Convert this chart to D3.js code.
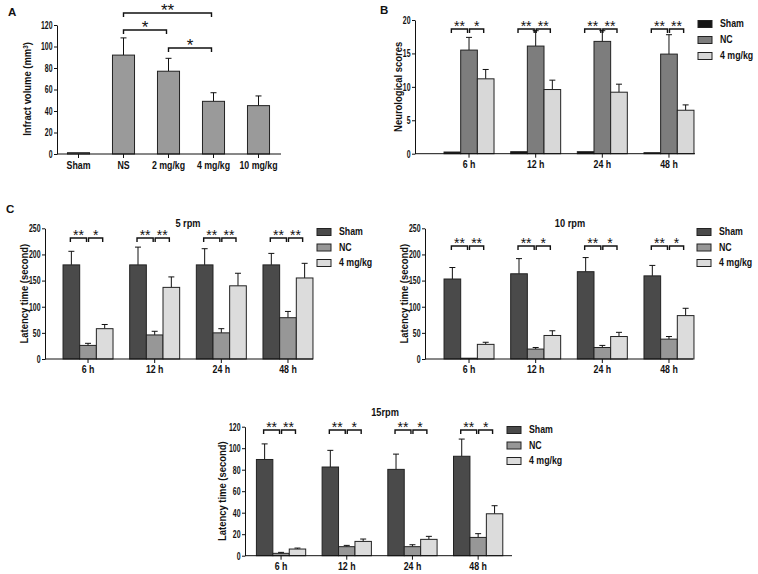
<!DOCTYPE html>
<html><head><meta charset="utf-8">
<script src="https://cdn.jsdelivr.net/npm/d3@7"></script>
<style>
body{margin:0;background:#fff}
svg{display:block}
text{font-family:"Liberation Sans",Arial,sans-serif;fill:#111}
</style>
</head><body>
<svg id="chart" width="758" height="574"></svg>
<script>
// ---------------- DATA ----------------
const aCategories = ["Sham", "NS", "2 mg/kg", "4 mg/kg", "10 mg/kg"];
const aValues = [1.2, 92, 77, 49, 45];
const aErrUpper = [1.2, 108, 89, 57, 54];
const aYTicks = [0, 20, 40, 60, 80, 100, 120];
const aSig = [ {from: "NS", to: "4 mg/kg", label: "**", level: 0},
               {from: "NS", to: "2 mg/kg", label: "*", level: 1},
               {from: "2 mg/kg", to: "4 mg/kg", label: "*", level: 2} ];

const groups = ["6 h", "12 h", "24 h", "48 h"];
const seriesNames = ["Sham", "NC", "4 mg/kg"];

// Panel B – neurological scores
const bSham = [0.25, 0.3, 0.3, 0.15];
const bShamErr = [0.25, 0.3, 0.3, 0.15];
const bNC = [15.5, 16.1, 16.8, 14.9];
const bNCErr = [17.4, 18.4, 18.4, 17.8];
const b4mg = [11.2, 9.6, 9.2, 6.5];
const b4mgErr = [12.6, 11.0, 10.4, 7.3];
const bYTicks = [0, 5, 10, 15, 20];
const bSig = [["**", "*"], ["**", "**"], ["**", "**"], ["**", "**"]];

// Panel C – 5 rpm
const c5Sham = [180, 180, 180, 180];
const c5ShamErr = [206, 214, 211, 202];
const c5NC = [26, 46, 50, 79];
const c5NCErr = [30, 53, 58, 91];
const c54mg = [58, 137, 140, 155];
const c54mgErr = [66, 157, 164, 183];
const c5Sig = [["**", "*"], ["**", "**"], ["**", "**"], ["**", "**"]];

// Panel C – 10 rpm
const c10Sham = [153, 163, 167, 159];
const c10ShamErr = [175, 192, 194, 179];
const c10NC = [1.5, 19, 22, 38];
const c10NCErr = [1.5, 22, 26, 43];
const c104mg = [28, 45, 43, 83];
const c104mgErr = [32, 54, 51, 97];
const c10Sig = [["**", "**"], ["**", "*"], ["**", "*"], ["**", "*"]];

const cYTicks = [0, 50, 100, 150, 200, 250];

// Panel C – 15 rpm
const c15Sham = [89.5, 82.5, 80.3, 92.5];
const c15ShamErr = [104, 98, 94.5, 108.5];
const c15NC = [2.2, 8.4, 8.4, 17];
const c15NCErr = [3.1, 9.6, 10.2, 20.5];
const c154mg = [6.2, 13.3, 15.2, 39];
const c154mgErr = [7.1, 15.5, 18, 46.5];
const c15YTicks = [0, 20, 40, 60, 80, 100, 120];
const c15Sig = [["**", "**"], ["**", "*"], ["**", "*"], ["**", "*"]];

// ---------------- DRAWING ----------------
const svg = d3.select("#chart");

// condense text horizontally (reference lettering is narrow) keeping its anchor
function cond(sel, k) {
  sel.each(function () {
    const t = d3.select(this);
    const x = +t.attr("x") || 0;
    const tr = t.attr("transform") || "";
    if (tr) t.attr("transform", tr + ` scale(${k},1)`);
    else t.attr("x", x / k).attr("transform", `scale(${k},1)`);
  });
}

function styleYAxis(g) {
  g.selectAll("path,line").attr("stroke", "#111").attr("stroke-width", 1);
  g.selectAll("text").attr("font-size", 10.5).attr("font-weight", "bold")
    .attr("fill", "#111").call(cond, 0.66);
}
function styleXAxis(g) {
  g.selectAll("path,line").attr("stroke", "#111").attr("stroke-width", 1);
  g.selectAll("text").attr("font-size", 10).attr("font-weight", "bold")
    .attr("fill", "#111").call(cond, 0.88);
}

function panelLetter(t, x, y) {
  svg.append("text").attr("x", x).attr("y", y).text(t)
    .attr("font-size", 11.5).attr("font-weight", "bold");
}

function yTitle(x, y, parts) {
  const t = svg.append("text")
    .attr("transform", `translate(${x},${y}) rotate(-90) scale(0.9,1)`)
    .attr("text-anchor", "middle").attr("font-size", 10.5).attr("font-weight", "bold");
  parts.forEach(p => {
    const ts = t.append("tspan").text(p.t);
    if (p.sup) ts.attr("baseline-shift", "super").attr("font-size", 7);
  });
}

function bracket(x1, x2, y, label, fs) {
  svg.append("path")
    .attr("d", `M${x1},${y + 4}V${y}H${x2}V${y + 4}`)
    .attr("fill", "none").attr("stroke", "#111").attr("stroke-width", 1.4);
  svg.append("text").attr("x", (x1 + x2) / 2).attr("y", y - 5.5 + fs * 0.5)
    .attr("text-anchor", "middle")
    .attr("font-size", fs).attr("font-weight", "normal").text(label);
}

function errBar(cx, yTop, yErr) {
  if (Math.abs(yTop - yErr) < 0.5) return;
  svg.append("path").attr("d", `M${cx},${yTop}V${yErr}M${cx - 3},${yErr}H${cx + 3}`)
    .attr("stroke", "#111").attr("stroke-width", 1).attr("fill", "none");
}

// ---- Panel A ----
(function () {
  const y = d3.scaleLinear().domain([0, 120]).range([154, 25]);
  const x = d3.scaleBand().domain(aCategories).range([56, 281]).paddingInner(0.51).paddingOuter(0.255);
  aCategories.forEach((c, i) => {
    const cx = x(c) + x.bandwidth() / 2;
    errBar(cx, y(aValues[i]), y(aErrUpper[i]));
    svg.append("rect").attr("x", x(c)).attr("y", y(aValues[i]))
      .attr("width", x.bandwidth()).attr("height", y(0) - y(aValues[i]))
      .attr("fill", "#9a9a9a").attr("stroke", "#222").attr("stroke-width", 1);
  });
  svg.append("g").attr("transform", "translate(57,0)")
    .call(d3.axisLeft(y).tickValues(aYTicks).tickSize(3).tickPadding(1.5).tickSizeOuter(0)).call(styleYAxis);
  const gx = svg.append("g").attr("transform", `translate(0,${y(0)})`)
    .call(d3.axisBottom(x).tickSize(4).tickPadding(4).tickSizeOuter(0)).call(styleXAxis);
  gx.select(".domain").attr("d", `M57,0H281`);
  const lv = [13, 30, 48];
  aSig.forEach(s => {
    const x1 = x(s.from) + x.bandwidth() / 2, x2 = x(s.to) + x.bandwidth() / 2;
    bracket(x1, x2 - 2, lv[s.level], s.label, 17);
  });
  yTitle(31, 89, [{t: "Infract volume (mm"}, {t: "3", sup: true}, {t: ")"}]);
  panelLetter("A", 8, 16);
})();

// ---- Grouped panel ----
function grouped(cfg) {
  const y = d3.scaleLinear().domain(cfg.yDomain).range(cfg.yRange);
  const x0 = d3.scaleBand().domain(groups).range(cfg.xRange).paddingInner(0.25).paddingOuter(0.125);
  const x1 = d3.scaleBand().domain(seriesNames).range([0, x0.bandwidth()]);
  const vals = [cfg.sham, cfg.nc, cfg.mg];
  const errs = [cfg.shamErr, cfg.ncErr, cfg.mgErr];
  groups.forEach((g, gi) => {
    seriesNames.forEach((s, si) => {
      const bx = x0(g) + x1(s);
      const cx = bx + x1.bandwidth() / 2;
      errBar(cx, y(vals[si][gi]), y(errs[si][gi]));
      svg.append("rect").attr("x", bx).attr("y", y(vals[si][gi]))
        .attr("width", x1.bandwidth()).attr("height", y(0) - y(vals[si][gi]))
        .attr("fill", cfg.colors[si]).attr("stroke", "#222").attr("stroke-width", 1);
    });
    const c0 = x0(g) + x1("Sham") + x1.bandwidth() / 2;
    const c1 = x0(g) + x1("NC") + x1.bandwidth() / 2;
    const c2 = x0(g) + x1("4 mg/kg") + x1.bandwidth() / 2;
    bracket(c0 - 1, c1 - 1.5, cfg.sigY, cfg.sig[gi][0], 14);
    bracket(c1 + 0.5, c2 - 2, cfg.sigY, cfg.sig[gi][1], 14);
  });
  svg.append("g").attr("transform", `translate(${cfg.axisX},0)`)
    .call(d3.axisLeft(y).tickValues(cfg.yTicks).tickSize(3).tickPadding(1.5).tickSizeOuter(0)).call(styleYAxis);
  const gx = svg.append("g").attr("transform", `translate(0,${y(0)})`)
    .call(d3.axisBottom(x0).tickSize(4).tickPadding(3).tickSizeOuter(0)).call(styleXAxis);
  gx.select(".domain").attr("d", `M${cfg.axisX},0H${cfg.axisEnd}`);
  if (cfg.title) {
    svg.append("text").attr("x", cfg.title.x).attr("y", cfg.title.y).attr("text-anchor", "middle")
      .attr("font-size", 10.5).attr("font-weight", "bold").text(cfg.title.t).call(cond, 0.88);
  }
  yTitle(cfg.yTitle.x, (cfg.yRange[0] + cfg.yRange[1]) / 2, [{t: cfg.yTitle.t}]);
  seriesNames.forEach((s, si) => {
    const ly = cfg.legend.y + si * cfg.legend.dy;
    svg.append("rect").attr("x", cfg.legend.x).attr("y", ly - 3.5).attr("width", 14).attr("height", 7)
      .attr("fill", cfg.colors[si]).attr("stroke", "#222").attr("stroke-width", 1);
    svg.append("text").attr("x", cfg.legend.x + 22).attr("y", ly).attr("dy", "0.35em")
      .attr("font-size", 10).attr("font-weight", "bold").text(s).call(cond, 0.88);
  });
}

grouped({
  sham: bSham, shamErr: bShamErr, nc: bNC, ncErr: bNCErr, mg: b4mg, mgErr: b4mgErr,
  yDomain: [0, 20], yRange: [153.7, 20], yTicks: bYTicks,
  xRange: [435.7, 702.3], axisX: 415, axisEnd: 695,
  colors: ["#151515", "#7d7d7d", "#d8d8d8"], sig: bSig, sigY: 29,
  yTitle: {t: "Neurological scores", x: 402},
  legend: {x: 698, y: 24, dy: 16}
});
panelLetter("B", 380, 14);

grouped({
  sham: c5Sham, shamErr: c5ShamErr, nc: c5NC, ncErr: c5NCErr, mg: c54mg, mgErr: c54mgErr,
  yDomain: [0, 250], yRange: [359, 228.3], yTicks: cYTicks,
  xRange: [54.7, 321.3], axisX: 45, axisEnd: 313,
  colors: ["#4a4a4a", "#979797", "#dcdcdc"], sig: c5Sig, sigY: 238,
  title: {t: "5 rpm", x: 188, y: 227},
  yTitle: {t: "Latency time (second)", x: 28},
  legend: {x: 317, y: 232, dy: 15.5}
});
panelLetter("C", 6, 213);

grouped({
  sham: c10Sham, shamErr: c10ShamErr, nc: c10NC, ncErr: c10NCErr, mg: c104mg, mgErr: c104mgErr,
  yDomain: [0, 250], yRange: [359, 228.3], yTicks: cYTicks,
  xRange: [435.7, 702.3], axisX: 425, axisEnd: 693,
  colors: ["#4a4a4a", "#979797", "#dcdcdc"], sig: c10Sig, sigY: 246,
  title: {t: "10 rpm", x: 570, y: 227},
  yTitle: {t: "Latency time (second)", x: 408},
  legend: {x: 697, y: 232, dy: 15.5}
});

grouped({
  sham: c15Sham, shamErr: c15ShamErr, nc: c15NC, ncErr: c15NCErr, mg: c154mg, mgErr: c154mgErr,
  yDomain: [0, 120], yRange: [555.7, 426.7], yTicks: c15YTicks,
  xRange: [248.2, 511], axisX: 245, axisEnd: 512,
  colors: ["#4a4a4a", "#979797", "#dcdcdc"], sig: c15Sig, sigY: 430,
  title: {t: "15rpm", x: 385, y: 416},
  yTitle: {t: "Latency time (second)", x: 226},
  legend: {x: 507, y: 430, dy: 15.5}
});
</script>
</body></html>
